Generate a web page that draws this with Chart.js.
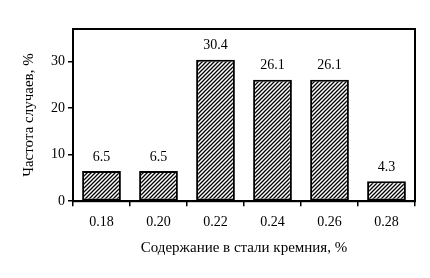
<!DOCTYPE html>
<html>
<head>
<meta charset="utf-8">
<script src="https://cdn.jsdelivr.net/npm/chart.js@4/dist/chart.umd.min.js"></script>
<style>
  html, body { margin: 0; padding: 0; background: #fff; }
  #wrap { width: 430px; height: 278px; }
</style>
</head>
<body>
<div id="wrap"><canvas id="chart" width="430" height="278"></canvas></div>
<script>
// ---- данные ----
const categories = ['0.18', '0.20', '0.22', '0.24', '0.26', '0.28'];
const values = [6.5, 6.5, 30.4, 26.1, 26.1, 4.3];
const yTicks = [0, 10, 20, 30];

const FONT = '"Liberation Serif", "Times New Roman", serif';

// ---- штриховка ////
function makeHatch() {
  const c = document.createElement('canvas');
  c.width = 4; c.height = 4;
  const g = c.getContext('2d');
  g.fillStyle = '#fff';
  g.fillRect(0, 0, 4, 4);
  g.strokeStyle = '#000';
  g.lineWidth = 1.3;
  g.beginPath();
  g.moveTo(0, 4); g.lineTo(4, 0);
  g.moveTo(-1, 1); g.lineTo(1, -1);
  g.moveTo(3, 5); g.lineTo(5, 3);
  g.stroke();
  return g.createPattern(c, 'repeat');
}

// ---- рамка и подписи значений ----
const framePlugin = {
  id: 'frame',
  afterDatasetsDraw(chart) {
    const { ctx, chartArea: a } = chart;
    ctx.save();
    ctx.strokeStyle = '#000';
    ctx.lineWidth = 2;
    ctx.strokeRect(a.left, a.top, a.right - a.left, a.bottom - a.top);
    ctx.fillStyle = '#000';
    ctx.font = '14px ' + FONT;
    ctx.textAlign = 'center';
    ctx.textBaseline = 'bottom';
    chart.getDatasetMeta(0).data.forEach((bar, i) => {
      ctx.fillText(values[i].toFixed(1), bar.x, bar.y - 7);
    });
    ctx.restore();
  }
};

const ctx = document.getElementById('chart').getContext('2d');
new Chart(ctx, {
  type: 'bar',
  data: {
    labels: categories,
    datasets: [{
      data: values,
      backgroundColor: makeHatch(),
      borderColor: '#000',
      borderWidth: 2,
      borderSkipped: false,
      barPercentage: 0.68,
      categoryPercentage: 1.0
    }]
  },
  options: {
    responsive: false,
    animation: false,
    layout: { padding: { top: 29, right: 15, left: 16, bottom: 17 } },
    plugins: { legend: { display: false }, tooltip: { enabled: false } },
    scales: {
      x: {
        offset: true,
        grid: { offset: true, drawOnChartArea: false, color: '#000', lineWidth: 1.5, tickLength: 5 },
        border: { color: '#000', width: 2 },
        ticks: { color: '#000', font: { family: FONT, size: 14 }, padding: 8, maxRotation: 0 },
        title: { display: true, text: 'Содержание в стали кремния, %', color: '#000',
                 font: { family: FONT, size: 15 }, padding: { top: 0 } }
      },
      y: {
        min: 0, max: 37,
        afterBuildTicks: s => { s.ticks = yTicks.map(v => ({ value: v })); },
        grid: { drawOnChartArea: false, color: '#000', lineWidth: 1.5, tickLength: 5 },
        border: { color: '#000', width: 2 },
        ticks: { color: '#000', font: { family: FONT, size: 14 }, padding: 3 },
        title: { display: true, text: 'Частота случаев, %', color: '#000',
                 font: { family: FONT, size: 15 }, padding: { bottom: 10 } }
      }
    }
  },
  plugins: [framePlugin]
});
</script>
</body>
</html>
